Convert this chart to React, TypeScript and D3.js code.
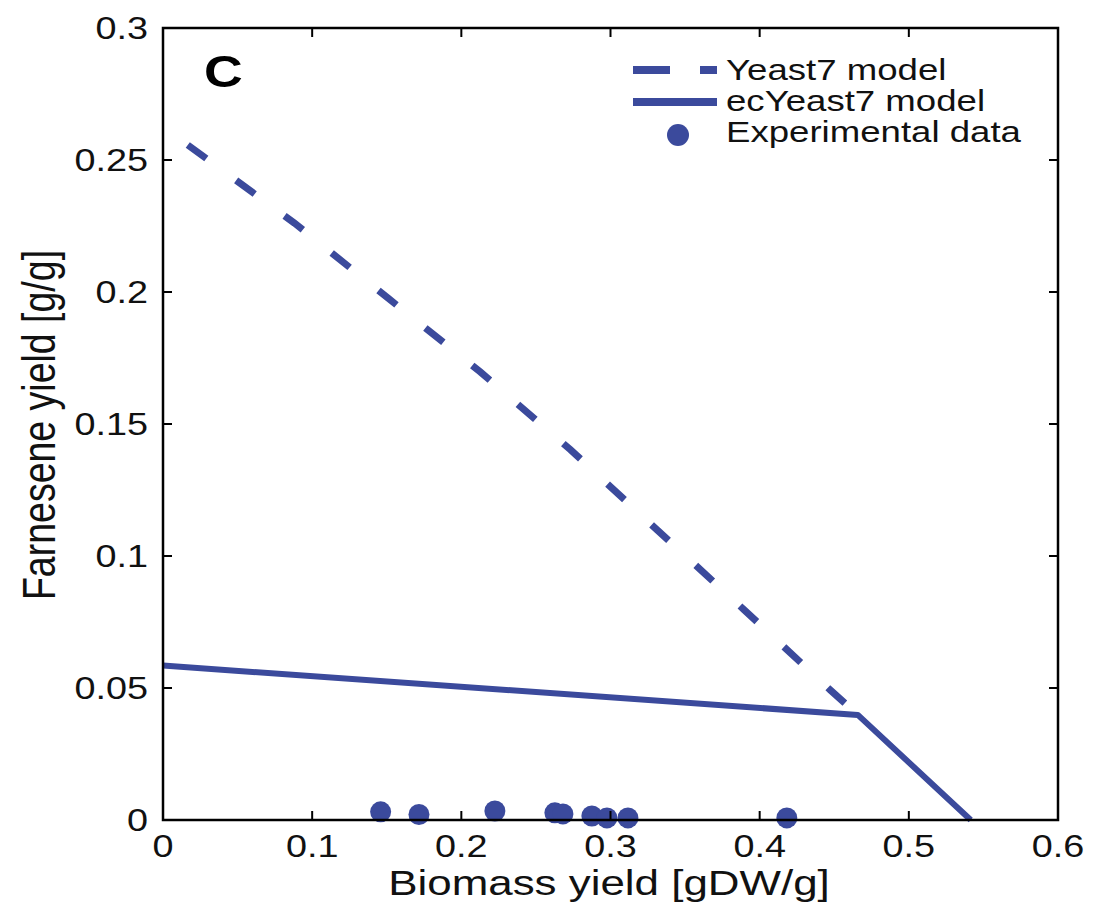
import React from "react";
import * as d3 from "d3";

const yeast7X = [0.0166, 0.0881, 0.1508, 0.2128, 0.2731, 0.3314, 0.3894, 0.4474, 0.4658];
const yeast7Y = [0.2557, 0.2261, 0.1977, 0.1697, 0.1403, 0.1098, 0.0797, 0.0492, 0.0398];
const ecYeast7X = [0, 0.4658, 0.5415];
const ecYeast7Y = [0.0585, 0.0398, 0];
const expX = [0.1459, 0.1716, 0.2225, 0.2627, 0.2681, 0.2875, 0.2976, 0.3117, 0.4182];
const expY = [0.0031, 0.0021, 0.0034, 0.0027, 0.0023, 0.0015, 0.0008, 0.0008, 0.0008];
const xTicks = [0, 0.1, 0.2, 0.3, 0.4, 0.5, 0.6];
const yTicks = [0, 0.05, 0.1, 0.15, 0.2, 0.25, 0.3];
const xTickLabels = ["0", "0.1", "0.2", "0.3", "0.4", "0.5", "0.6"];
const yTickLabels = ["0", "0.05", "0.1", "0.15", "0.2", "0.25", "0.3"];
const legendLabels = ["Yeast7 model", "ecYeast7 model", "Experimental data"];

const W = 1108;
const H = 908;
const L = 163, R = 1058, T = 28, B = 820;
const COLOR = "#3B4A9C";
const FONT = "'Liberation Sans', Arial, Helvetica, sans-serif";
const SX = 1.22;

export default function App() {
  const x = d3.scaleLinear().domain([0, 0.6]).range([L, R]);
  const y = d3.scaleLinear().domain([0, 0.3]).range([B, T]);
  const line = d3
    .line<[number, number]>()
    .x((d) => x(d[0]))
    .y((d) => y(d[1]));
  const dashed = yeast7X.map((v, i) => [v, yeast7Y[i]] as [number, number]);
  const solid = ecYeast7X.map((v, i) => [v, ecYeast7Y[i]] as [number, number]);
  const tickLen = 9;

  return (
    <svg
      width={W}
      height={H}
      style={{ position: "absolute", left: 0, top: 0, background: "#fff" }}
      fontFamily={FONT}
    >
      <rect x={0} y={0} width={W} height={H} fill="#fff" />
      {/* data */}
      <path
        d={line(dashed) || ""}
        fill="none"
        stroke={COLOR}
        strokeWidth={7}
        strokeDasharray="23,37"
      />
      <path
        d={line(solid) || ""}
        fill="none"
        stroke={COLOR}
        strokeWidth={6}
        strokeLinejoin="round"
      />
      {expX.map((v, i) => (
        <circle key={i} cx={x(v)} cy={y(expY[i])} r={10.5} fill={COLOR} />
      ))}
      {/* axes box */}
      <rect x={L} y={T} width={R - L} height={B - T} fill="none" stroke="#000" strokeWidth={2.5} />
      {xTicks.map((t, i) => (
        <g key={"xt" + i}>
          <line x1={x(t)} x2={x(t)} y1={B} y2={B - tickLen} stroke="#000" strokeWidth={2} />
          <line x1={x(t)} x2={x(t)} y1={T} y2={T + tickLen} stroke="#000" strokeWidth={2} />
          <text
            transform={`translate(${x(t)},857) scale(${SX},1)`}
            textAnchor="middle"
            fontSize={31}
            fill="#111"
          >
            {xTickLabels[i]}
          </text>
        </g>
      ))}
      {yTicks.map((t, i) => (
        <g key={"yt" + i}>
          <line x1={L} x2={L + tickLen} y1={y(t)} y2={y(t)} stroke="#000" strokeWidth={2} />
          <line x1={R} x2={R - tickLen} y1={y(t)} y2={y(t)} stroke="#000" strokeWidth={2} />
          <text
            transform={`translate(148,${y(t) + 11}) scale(${SX},1)`}
            textAnchor="end"
            fontSize={31}
            fill="#111"
          >
            {yTickLabels[i]}
          </text>
        </g>
      ))}
      {/* axis labels */}
      <text
        transform={`translate(609,895) scale(${SX},1)`}
        textAnchor="middle"
        fontSize={36}
        fill="#111"
      >
        Biomass yield [gDW/g]
      </text>
      <text
        transform={`translate(55,425) scale(${SX},1) rotate(-90)`}
        textAnchor="middle"
        fontSize={37.5}
        fill="#111"
      >
        Farnesene yield [g/g]
      </text>
      {/* panel letter */}
      <text
        transform={`translate(204,87) scale(${SX},1)`}
        fontSize={44}
        fontWeight="bold"
        fill="#000"
      >
        C
      </text>
      {/* legend */}
      <line x1={633} x2={717} y1={70} y2={70} stroke={COLOR} strokeWidth={8} strokeDasharray="37,30" />
      <line x1={633} x2={717} y1={102} y2={102} stroke={COLOR} strokeWidth={8} />
      <circle cx={678} cy={135} r={11} fill={COLOR} />
      {legendLabels.map((lab, i) => (
        <text
          key={lab}
          transform={`translate(726,${[80, 111, 142][i]}) scale(${SX},1)`}
          fontSize={30}
          fill="#111"
        >
          {lab}
        </text>
      ))}
    </svg>
  );
}
